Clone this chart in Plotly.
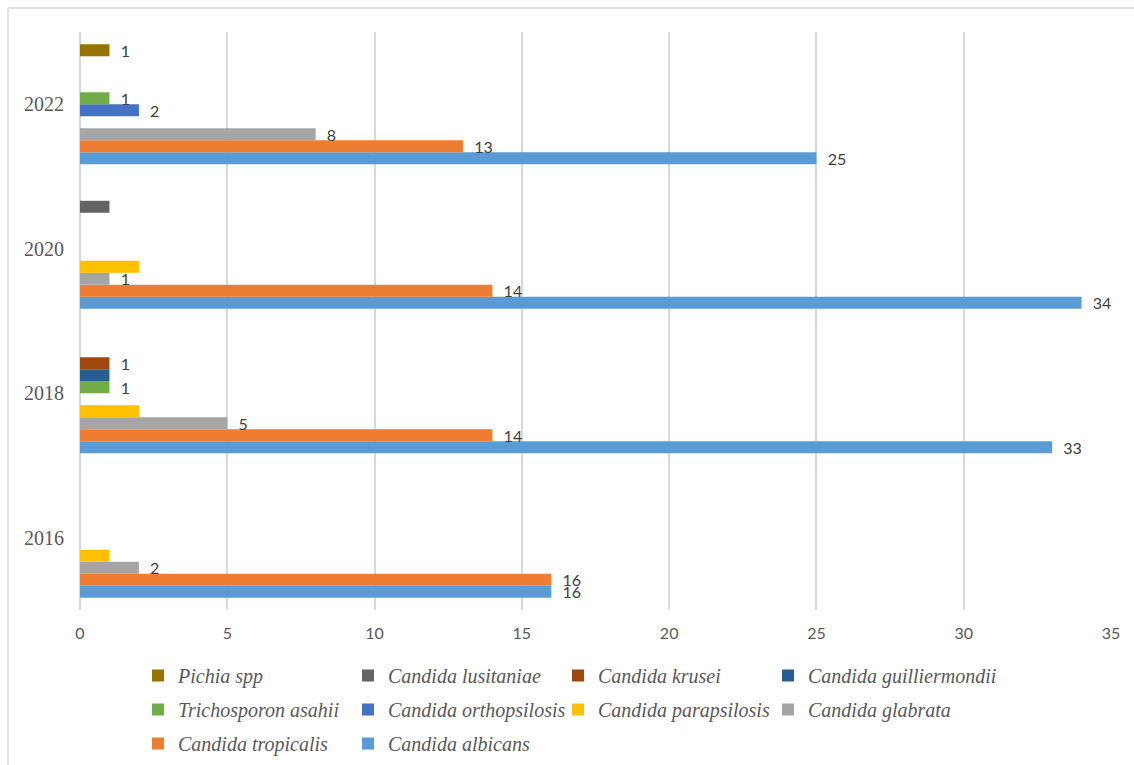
import plotly.graph_objects as go

years = ["2016", "2018", "2020", "2022"]

# series in plot order (bottom slot first)
series_names = [
    "Candida albicans",
    "Candida tropicalis",
    "Candida glabrata",
    "Candida parapsilosis",
    "Candida orthopsilosis",
    "Trichosporon asahii",
    "Candida guilliermondii",
    "Candida krusei",
    "Candida lusitaniae",
    "Pichia spp",
]

albicans = [16, 33, 34, 25]
tropicalis = [16, 14, 14, 13]
glabrata = [2, 5, 1, 8]
parapsilosis = [1, 2, 2, 0]
orthopsilosis = [0, 0, 0, 2]
trichosporon = [0, 1, 0, 1]
guilliermondii = [0, 1, 0, 0]
krusei = [0, 1, 0, 0]
lusitaniae = [0, 0, 1, 0]
pichia = [0, 0, 0, 1]

values = [albicans, tropicalis, glabrata, parapsilosis, orthopsilosis,
          trichosporon, guilliermondii, krusei, lusitaniae, pichia]

colors = ["#5B9BD5", "#ED7D31", "#A5A5A5", "#FFC000", "#4472C4",
          "#70AD47", "#255E91", "#9E480E", "#636363", "#997300"]

# which series carry data labels in the original
show_labels = [True, True, True, False, True, True, False, True, False, True]

# legend grid slot (row, column) of each series, as laid out in the source
legend_slot = [(2, 1), (2, 0), (1, 3), (1, 2), (1, 1),
               (1, 0), (0, 3), (0, 2), (0, 1), (0, 0)]

W, H = 1134, 765
ml, mr, mt, mb = 80, 23, 32, 155
pw, ph = W - ml - mr, H - mt - mb

legend_font = dict(family="Liberation Serif, serif", size=20, color="#595959", style="italic")

fig = go.Figure()
legend_layouts = {}
for i, (name, vals, col, lab, slot) in enumerate(
        zip(series_names, values, colors, show_labels, legend_slot)):
    lg = "legend" if i == 0 else f"legend{i + 1}"
    text = [("  " + str(v)) if (lab and v > 0) else "" for v in vals]
    fig.add_trace(go.Bar(
        y=years, x=vals, name=name, orientation="h",
        marker=dict(color=col, line=dict(width=0)),
        text=text, textposition="outside", constraintext="none",
        textfont=dict(family="Lato, Liberation Sans, sans-serif", size=16, color="#404040"),
        cliponaxis=False, legend=lg,
        hoverinfo="x+name",
    ))
    r, c = slot
    left_px = 138 + 210 * c
    top_px = 656 + 34 * r
    legend_layouts[lg] = dict(
        orientation="h",
        x=(left_px - ml) / pw, xanchor="left",
        y=-(top_px - (mt + ph)) / ph, yanchor="top",
        font=legend_font, itemclick=False, bgcolor="rgba(0,0,0,0)",
        borderwidth=0,
    )

fig.update_layout(
    width=W, height=H,
    margin=dict(l=ml, r=mr, t=mt, b=mb, pad=0, autoexpand=False),
    paper_bgcolor="white", plot_bgcolor="white",
    barmode="group", bargap=0.17, bargroupgap=0,
    xaxis=dict(
        range=[0, 35], dtick=5, tick0=0,
        showgrid=True, gridcolor="#D9D9D9", gridwidth=1.5,
        zeroline=True, zerolinecolor="#D9D9D9", zerolinewidth=1.5,
        showline=False, ticks="",
        tickfont=dict(family="Lato, Liberation Sans, sans-serif", size=16, color="#595959"),
        ticklabelstandoff=12,
    ),
    yaxis=dict(
        type="category", categoryorder="array", categoryarray=years,
        showgrid=False, zeroline=False, showline=False, ticks="",
        tickfont=dict(family="Liberation Serif, serif", size=20, color="#595959"),
        ticklabelstandoff=15,
    ),
    showlegend=True,
    **legend_layouts,
)

# chart-area border (light gray), as in the source
fig.add_shape(type="line", xref="paper", yref="paper",
              x0=(8 - ml) / pw, x1=(W + 5 - ml) / pw,
              y0=(H - mb - 8) / ph, y1=(H - mb - 8) / ph,
              line=dict(color="#D9D9D9", width=1.5), layer="below")
fig.add_shape(type="line", xref="paper", yref="paper",
              x0=(8 - ml) / pw, x1=(8 - ml) / pw,
              y0=(H - mb - 8) / ph, y1=-(mb + 5) / ph,
              line=dict(color="#D9D9D9", width=1.5), layer="below")

fig.write_html("out.html")
